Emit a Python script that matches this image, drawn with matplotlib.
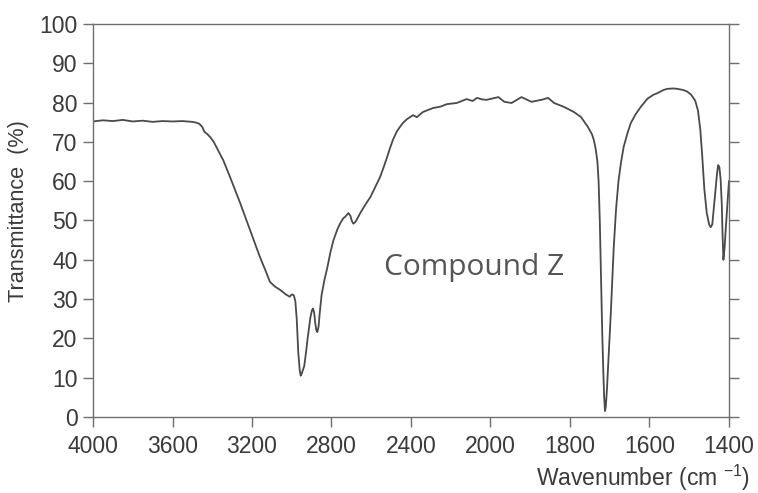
import numpy as np
import matplotlib
matplotlib.use("Agg")
import matplotlib.pyplot as plt

# ── Spectrum (wavenumber cm^-1, transmittance %) ─────────────────────────────
wavenumber = np.array([
    4000, 3950, 3900, 3850, 3800, 3750, 3700, 3650, 3600, 3550, 3500, 3480,
    3465, 3450, 3440, 3425, 3410, 3395, 3380, 3360, 3345, 3310, 3260, 3210,
    3160, 3130, 3110, 3085, 3060, 3030, 3010, 3000, 2990, 2982, 2975, 2967,
    2960, 2955, 2950, 2945, 2937, 2928, 2920, 2906, 2898, 2893, 2887, 2882,
    2876, 2871, 2865, 2860, 2850, 2835, 2821, 2805, 2790, 2770, 2755, 2740,
    2730, 2715, 2705, 2697, 2690, 2680, 2670, 2654, 2630, 2604, 2580, 2556,
    2540, 2521, 2505, 2491, 2470, 2441, 2420, 2390, 2370, 2340, 2290, 2250,
    2220, 2170, 2120, 2090, 2068, 2040, 2020, 1980, 1965, 1947, 1922, 1897,
    1872, 1855, 1840, 1815, 1790, 1772, 1755, 1745, 1740, 1735, 1731, 1728,
    1725, 1722, 1719, 1716, 1714, 1712, 1710, 1707, 1703, 1697, 1690, 1684,
    1678, 1672, 1665, 1656, 1647, 1635, 1622, 1605, 1590, 1580, 1565, 1555,
    1540, 1530, 1515, 1505, 1495, 1485, 1478, 1472, 1467, 1462, 1456, 1450,
    1446, 1442, 1438, 1434, 1430, 1427, 1424, 1421, 1418, 1416, 1414, 1411,
    1408, 1404, 1400,
])
transmittance = np.array([
    75.2, 75.5, 75.3, 75.6, 75.2, 75.4, 75.1, 75.3, 75.2, 75.3, 75.1, 74.9,
    74.6, 73.8, 72.6, 72.0, 71.2, 70.2, 68.8, 66.8, 65.4, 61.0, 54.5, 47.6,
    40.7, 37.0, 34.4, 33.2, 32.4, 31.2, 30.6, 31.2, 31.0, 29.5, 25.0, 16.3,
    12.0, 10.5, 11.0, 11.8, 13.0, 16.5, 20.0, 25.4, 27.2, 27.6, 26.5, 24.0,
    22.0, 21.6, 23.0, 26.0, 31.0, 35.0, 38.0, 42.0, 45.0, 47.8, 49.4, 50.6,
    51.0, 51.9, 51.2, 49.8, 49.2, 49.6, 50.5, 52.0, 54.0, 56.0, 58.5, 61.0,
    63.2, 66.0, 68.5, 70.5, 72.8, 74.8, 75.8, 76.8, 76.3, 77.6, 78.6, 79.0,
    79.6, 79.9, 80.9, 80.4, 81.2, 80.8, 80.7, 81.4, 80.2, 79.9, 81.4, 80.2,
    80.7, 81.2, 79.9, 78.9, 77.6, 76.3, 73.8, 72.0, 70.5, 68.0, 65.0, 60.0,
    50.0, 36.0, 22.0, 11.0, 5.0, 1.5, 2.5, 7.0, 15.0, 27.0, 43.0, 53.0,
    60.0, 64.5, 68.7, 72.0, 74.8, 77.0, 78.9, 81.0, 82.0, 82.4, 83.2, 83.5,
    83.6, 83.5, 83.2, 82.8, 82.0, 80.5, 78.0, 73.0, 66.0, 58.0, 52.0, 49.0,
    48.3, 49.0, 53.4, 58.0, 62.0, 64.1, 63.5, 60.5, 54.0, 46.0, 40.0, 43.0,
    48.0, 54.0, 60.0,
])

x_ticks = [4000, 3600, 3200, 2800, 2400, 2000, 1800, 1600, 1400]
y_ticks = list(range(0, 101, 10))


# IR charts change scale at 2000 cm^-1 (400 per division above, 200 below)
def fwd(w):
    w = np.asarray(w, dtype=float)
    return np.where(w >= 2000, w / 400.0, 5.0 + (w - 2000) / 200.0)


def inv(u):
    u = np.asarray(u, dtype=float)
    return np.where(u >= 5, u * 400.0, 2000 + (u - 5.0) * 200.0)


plt.rcParams["font.family"] = ["Liberation Sans", "DejaVu Sans"]
plt.rcParams["mathtext.default"] = "regular"

fig = plt.figure(figsize=(7.58, 4.93), dpi=100)
ax = fig.add_axes([0.1227, 0.1542, 0.8390, 0.7971])

ax.plot(wavenumber, transmittance, color="#4a4a4a", linewidth=1.3)

ax.set_xscale("function", functions=(fwd, inv))
ax.set_xlim(4000, 1400)
ax.set_ylim(0, 100)
ax.set_xticks(x_ticks)
ax.set_xticklabels([str(t) for t in x_ticks])
ax.set_yticks(y_ticks)
ax.minorticks_off()

gray = "#6e6e6e"
for s in ax.spines.values():
    s.set_color(gray)
    s.set_linewidth(1.0)

ax.tick_params(axis="both", direction="out", length=7, width=1.0,
               color=gray, labelcolor="#3a3a3a", labelsize=16.5)
ax.tick_params(axis="x", pad=6)
ax.tick_params(axis="y", pad=4)
ax.tick_params(axis="y", which="both", right=True, labelright=False)

fig.text(0.025, 0.572, "Transmittance  (%)", rotation=90, ha="center",
         va="center", fontsize=15.6, color="#3a3a3a")
fig.text(0.989, 0.030, "Wavenumber (cm $^{-1}$)", ha="right", va="center",
         fontsize=16.5, color="#3a3a3a")

ax.text(2084, 38, "Compound Z", ha="center", va="center",
        fontsize=21.5, color="#555555", family=["Open Sans", "DejaVu Sans"])

fig.savefig("out.png", dpi=100)
